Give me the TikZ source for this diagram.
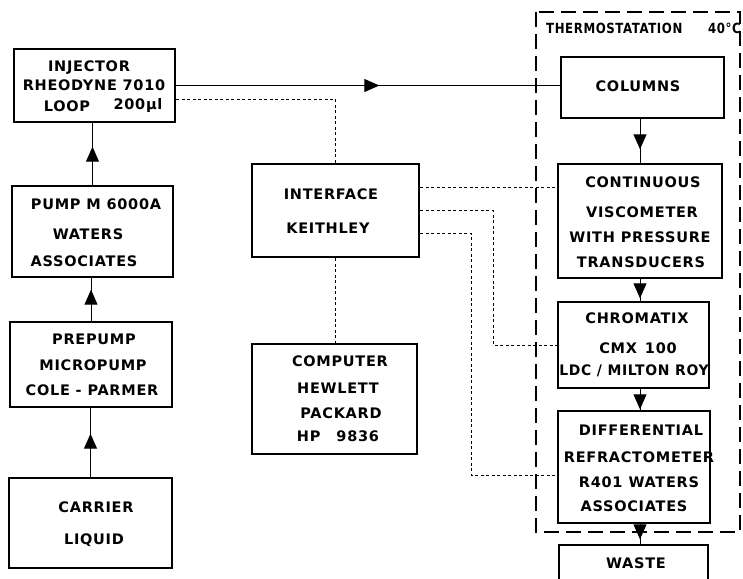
\documentclass[tikz,border=0pt]{standalone}
\usepackage{fontspec}
\setmainfont{DejaVu Sans}[LetterSpace=5]
\usetikzlibrary{arrows.meta,decorations.markings}
\tikzset{
  box/.style={draw, line width=2.6pt, rectangle, inner sep=0pt},
  txt/.style={font=\bfseries\fontsize{14.5}{16}\selectfont, inner sep=0pt},
  ttl/.style={font=\bfseries\fontsize{14}{16}\selectfont, inner sep=0pt},
  flow/.style={draw, line width=1pt},
  sig/.style={draw, line width=1pt, dash pattern=on 3pt off 2.5pt},
  encl/.style={draw, line width=1.2pt, dash pattern=on 15pt off 7pt},
  midarrow/.style={postaction={decorate}, decoration={markings,
    mark=at position #1 with {\arrow{Triangle[width=13pt,length=15pt]}}}}
}
\begin{document}
\begin{tikzpicture}[x=1pt,y=-1pt]
\useasboundingbox (0,0) rectangle (743,578);
% enclosure
\draw[encl] (536,12) rectangle (740,532);
\node[ttl, anchor=west] (thermo) at (546,28) {\scalebox{0.84}[1]{THERMOSTATATION}};
\node[ttl, anchor=east] (temp) at (741,28) {\scalebox{0.84}[1]{40°C}};
% boxes
\node[box, minimum width=161pt, minimum height=73pt] (inj) at (94.5,85.5) {};
\node[box, minimum width=161pt, minimum height=91pt] (pump) at (92.5,231.5) {};
\node[box, minimum width=162pt, minimum height=85pt] (prep) at (91,364.5) {};
\node[box, minimum width=163pt, minimum height=90pt] (carr) at (90.5,523) {};
\node[box, minimum width=167pt, minimum height=93pt] (iface) at (335.5,210.5) {};
\node[box, minimum width=165pt, minimum height=110pt] (comp) at (334.5,399) {};
\node[box, minimum width=163pt, minimum height=61pt] (cols) at (642.5,87.5) {};
\node[box, minimum width=164pt, minimum height=114pt] (visc) at (640,221) {};
\node[box, minimum width=151pt, minimum height=86pt] (chrom) at (633.5,345) {};
\node[box, minimum width=152pt, minimum height=112pt] (diff) at (634,467) {};
\node[box, minimum width=149pt, minimum height=55pt] (waste) at (633.5,572.5) {};
% texts
\node[txt] (t1) at (89,68) {INJECTOR};
\node[txt] (t2) at (94,85) {RHEODYNE 7010};
\node[txt] (t3) at (67,106) {LOOP};
\node[txt] (t4) at (138,106) {200µl};
\node[txt] (t5) at (96,204) {PUMP M 6000A};
\node[txt] (t6) at (88,234) {WATERS};
\node[txt] (t7) at (84,261) {ASSOCIATES};
\node[txt] (t8) at (94,339) {PREPUMP};
\node[txt] (t9) at (93,365) {MICROPUMP};
\node[txt] (t10) at (92,390) {COLE - PARMER};
\node[txt] (t11) at (96,507) {CARRIER};
\node[txt] (t12) at (94,540) {LIQUID};
\node[txt] (t13) at (331,194) {INTERFACE};
\node[txt] (t14) at (328,228) {KEITHLEY};
\node[txt] (t15) at (340,361) {COMPUTER};
\node[txt] (t16) at (338,388) {HEWLETT};
\node[txt] (t17) at (341,413) {PACKARD};
\node[txt] (t18) at (338,436) {HP\hspace{16pt}9836};
\node[txt] (t19) at (638,86) {COLUMNS};
\node[txt] (t20) at (643,182) {CONTINUOUS};
\node[txt] (t21) at (642,212) {VISCOMETER};
\node[txt] (t22) at (640,237) {WITH PRESSURE};
\node[txt] (t23) at (641,262) {TRANSDUCERS};
\node[txt] (t24) at (637,318) {CHROMATIX};
\node[txt] (t25) at (638,348) {CMX\hspace{8pt}100};
\node[txt] (t26) at (634,371) {\scalebox{0.96}[1]{LDC / MILTON ROY}};
\node[txt] (t27) at (641,430) {DIFFERENTIAL};
\node[txt] (t28) at (639,457) {REFRACTOMETER};
\node[txt] (t29) at (639,482) {R401\hspace{6pt}WATERS};
\node[txt] (t30) at (634,506) {ASSOCIATES};
\node[txt] (t31) at (636,563) {WASTE};
% flow connectors
\draw[flow, midarrow=203pt] (inj.east) -- (inj.east -| cols.west);
\draw[flow, midarrow=43pt] (carr.north) -- (carr.north |- prep.south);
\draw[flow, midarrow=31pt] (prep.north) -- (prep.north |- pump.south);
\draw[flow, midarrow=38pt] (pump.north) -- (pump.north |- inj.south);
\draw[flow, midarrow=30pt] (visc.north |- cols.south) -- (visc.north);
\draw[flow, midarrow=19pt] (visc.south) -- (visc.south |- chrom.north);
\draw[flow, midarrow=20pt] (visc.south |- chrom.south) -- (visc.south |- diff.north);
\draw[flow, midarrow=15pt] (visc.south |- diff.south) -- (visc.south |- waste.north);
% signal connectors
\coordinate (s0) at ([yshift=-13.5pt]inj.east);
\draw[sig] (s0) -| (iface.north);
\draw[sig] (iface.south) -- (iface.south |- comp.north);
\coordinate (s1) at ([yshift=23.5pt]iface.east);
\draw[sig] (s1) -- (s1 -| visc.west);
\coordinate (s2) at (iface.east);
\coordinate (b2) at (493,0);
\draw[sig] (s2) -| (b2 |- chrom.west) -- (chrom.west);
\coordinate (s3) at ([yshift=-22.5pt]iface.east);
\coordinate (b3) at (471,0);
\coordinate (e3) at ([yshift=-8pt]diff.west);
\draw[sig] (s3) -| (b3 |- e3) -- (e3);
\end{tikzpicture}
\end{document}
